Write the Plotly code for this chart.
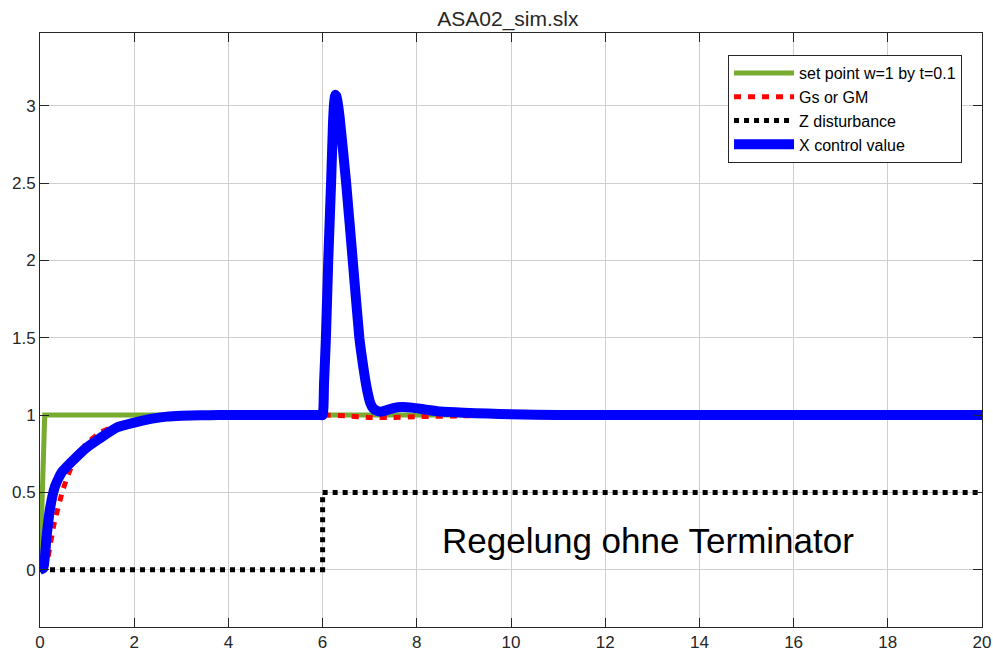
import plotly.graph_objects as go

# ---- data ----
t_w = [0, 0.1, 20]
w_val = [0, 1, 1]

t_gs = [0.1, 0.17, 0.3, 0.49, 0.7, 1.0, 1.3, 1.6, 2.0, 2.5, 3.0, 3.5, 4.0, 5.0, 5.6, 6.0, 6.5, 7.0, 7.5, 8.0, 9.0, 10.0, 12.0, 15.0, 20.0]
gs_val = [0, 0.08, 0.3, 0.52, 0.69, 0.82, 0.89, 0.93, 0.965, 0.985, 0.995, 1.0, 1.0, 1.0, 1.0, 1.0, 0.995, 0.985, 0.985, 0.99, 0.995, 1.0, 1.0, 1.0, 1.0]

t_z = [0, 6, 6, 20]
z_val = [0, 0, 0.5, 0.5]

t_x = [0, 0.07, 0.14, 0.21, 0.32, 0.46, 0.71, 0.99, 1.27, 1.63, 1.98, 2.35, 2.69, 3.0, 3.4, 3.8, 4.3,
       5.0, 5.5, 5.85, 5.95, 6.0,
       6.03, 6.07, 6.12, 6.18, 6.22, 6.245, 6.27, 6.295, 6.32, 6.36, 6.50, 6.64, 6.78, 6.85, 6.91,
       6.96, 7.01, 7.07, 7.15, 7.24, 7.35, 7.5, 7.7, 7.9, 8.2, 8.5, 9.0, 9.5, 10.0, 11.0,
       12.0, 13.5, 15.0, 17.0, 20.0]
x_val = [0, 0.01, 0.215, 0.39, 0.54, 0.63, 0.71, 0.79, 0.85, 0.92, 0.95, 0.975, 0.99, 0.996, 0.999, 1.0, 1.0,
         1.0, 1.0, 1.0, 1.0, 1.0,
         1.2, 1.5, 2.0, 2.5, 2.88, 3.02, 3.07, 3.06, 3.02, 2.93, 2.5, 2.0, 1.5, 1.34, 1.22,
         1.14, 1.08, 1.045, 1.028, 1.022, 1.03, 1.045, 1.052, 1.048, 1.035, 1.023, 1.015, 1.01, 1.005, 1.0,
         1.0, 1.0, 1.0, 1.0, 1.0]

x_ticks = list(range(0, 21, 2))
y_ticks = [0, 0.5, 1, 1.5, 2, 2.5, 3]
y_tick_text = ["0", "0.5", "1", "1.5", "2", "2.5", "3"]

FONT = "Liberation Sans, Arial, sans-serif"
AXC = "#262626"

fig = go.Figure()
fig.add_trace(go.Scatter(x=t_w, y=w_val, mode="lines", name="set point w=1 by t=0.1",
                         line=dict(color="#77AC30", width=5)))
fig.add_trace(go.Scatter(x=t_gs, y=gs_val, mode="lines", name="Gs or GM",
                         line=dict(color="#FF0000", width=5, dash="7px,7px", shape="spline", smoothing=0.5)))
fig.add_trace(go.Scatter(x=t_z, y=z_val, mode="lines", name="Z disturbance",
                         line=dict(color="#000000", width=5, dash="5px,5px")))
fig.add_trace(go.Scatter(x=t_x, y=x_val, mode="lines", name="X control value",
                         line=dict(color="#0000FF", width=10, shape="spline", smoothing=0.5)))

fig.add_annotation(x=12.9, y=0.19, xref="x", yref="y", text="Regelung ohne Terminator",
                   showarrow=False, font=dict(family=FONT, size=35, color="#000000"),
                   xanchor="center", yanchor="middle")

axis_common = dict(showgrid=True, gridcolor="#cfcfcf", gridwidth=1, showline=True,
                   linecolor=AXC, linewidth=1, mirror="ticks", ticks="inside", ticklen=9,
                   tickcolor=AXC, tickwidth=1, zeroline=False, automargin=False,
                   tickfont=dict(family=FONT, size=17, color=AXC))

fig.update_xaxes(range=[0, 20], tickvals=x_ticks, **axis_common)
fig.update_yaxes(range=[-0.37, 3.47], tickvals=y_ticks, ticktext=y_tick_text, **axis_common)

fig.update_layout(
    width=993, height=652,
    margin=dict(l=40, r=11, t=33, b=25),
    paper_bgcolor="white", plot_bgcolor="white",
    title=dict(text="ASA02_sim.slx", x=0.5115, xanchor="center", y=0.972, yanchor="middle",
               font=dict(family=FONT, size=21, color=AXC)),
    showlegend=True,
    legend=dict(x=0.9788, xanchor="right", y=0.963, yanchor="top",
                bgcolor="white", bordercolor=AXC, borderwidth=1,
                font=dict(family=FONT, size=16, color="#000000"),
                itemwidth=60, tracegroupgap=0),
    font=dict(family=FONT),
)

fig.write_html("out.html")
